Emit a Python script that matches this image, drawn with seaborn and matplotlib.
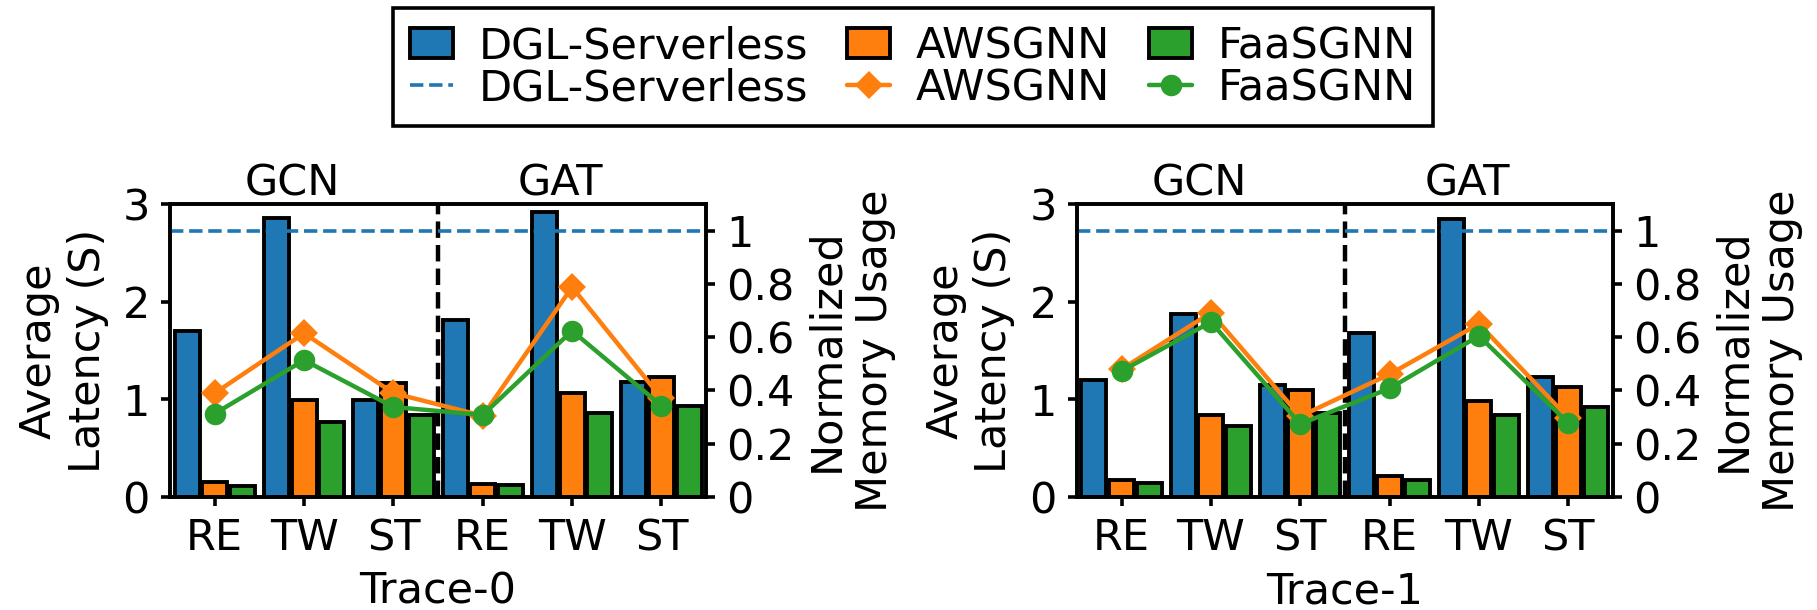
"""
Latency and memory usage of DGL-Serverless / AWSGNN / FaaSGNN on two traces
"""
import matplotlib
matplotlib.use('Agg')
import matplotlib.pyplot as plt
import matplotlib.transforms as mtransforms
from matplotlib.patches import Patch
from matplotlib.lines import Line2D
import numpy as np
import pandas as pd
import seaborn as sns

sns.set_theme(style='ticks')
plt.rcParams['font.family'] = ['DejaVu Sans']
plt.rcParams.update({
    'axes.edgecolor': 'black',
    'axes.labelcolor': 'black',
    'text.color': 'black',
    'xtick.color': 'black',
    'ytick.color': 'black',
    'axes.linewidth': 2.6,
})

FS = 31

# ---- data ----
MODELS = ['GCN', 'GAT']
DATASETS = ['RE', 'TW', 'ST']
SYSTEMS = ['DGL-Serverless', 'AWSGNN', 'FaaSGNN']
COLORS = ['#1f77b4', '#ff7f0e', '#2ca02c']
TRACES = ['Trace-0', 'Trace-1']

# average latency (s), order: GCN RE/TW/ST, GAT RE/TW/ST
dgl_lat_t0 = [1.70, 2.86, 0.99, 1.81, 2.92, 1.18]
aws_lat_t0 = [0.15, 0.99, 1.165, 0.13, 1.07, 1.23]
faa_lat_t0 = [0.11, 0.77, 0.845, 0.12, 0.86, 0.93]

dgl_lat_t1 = [1.20, 1.876, 1.144, 1.684, 2.85, 1.234]
aws_lat_t1 = [0.17, 0.845, 1.093, 0.216, 0.98, 1.13]
faa_lat_t1 = [0.148, 0.725, 0.86, 0.172, 0.835, 0.92]

# normalized memory usage (DGL-Serverless = 1)
dgl_mem = 1.0
aws_mem_t0 = [0.39, 0.615, 0.39, 0.305, 0.788, 0.372]
faa_mem_t0 = [0.313, 0.514, 0.338, 0.308, 0.624, 0.343]

aws_mem_t1 = [0.48, 0.692, 0.303, 0.461, 0.650, 0.297]
faa_mem_t1 = [0.473, 0.657, 0.274, 0.408, 0.605, 0.278]

latency = [
    [dgl_lat_t0, aws_lat_t0, faa_lat_t0],
    [dgl_lat_t1, aws_lat_t1, faa_lat_t1],
]
memory = [
    {'AWSGNN': aws_mem_t0, 'FaaSGNN': faa_mem_t0},
    {'AWSGNN': aws_mem_t1, 'FaaSGNN': faa_mem_t1},
]

cfgs = [f'{m}-{d}' for m in MODELS for d in DATASETS]
tick_labels = DATASETS * len(MODELS)
palette = dict(zip(SYSTEMS, COLORS))
markers = {'AWSGNN': 'D', 'FaaSGNN': 'o'}
msizes = {'AWSGNN': 14.5, 'FaaSGNN': 15.5}

fig = plt.figure(figsize=(18.17, 6.10), dpi=100)
lefts = [0.0936, 0.5927]

for i, trace in enumerate(TRACES):
    ax = fig.add_axes([lefts[i], 0.1852, 0.295, 0.4803])

    rows = []
    for s, vals in zip(SYSTEMS, latency[i]):
        for c, v in zip(cfgs, vals):
            rows.append({'cfg': c, 'system': s, 'latency': v})
    df = pd.DataFrame(rows)

    sns.barplot(data=df, x='cfg', y='latency', hue='system', order=cfgs,
                hue_order=SYSTEMS, palette=palette, width=0.93, gap=0.1,
                edgecolor='black', linewidth=2.8, saturation=1, errorbar=None,
                legend=False, ax=ax)

    ax.axvline(len(DATASETS) - 0.5, color='black', ls='--', lw=3.2)
    ax.set_ylim(0, 3)
    ax.set_yticks([0, 1, 2, 3])
    ax.set_xticks(range(len(cfgs)))
    ax.set_xticklabels(tick_labels)
    ax.set_xlabel(trace, fontsize=FS, labelpad=8)
    ax.set_ylabel('Average\nLatency (S)', fontsize=FS, labelpad=10)
    ax.tick_params(labelsize=FS, length=6.5, width=2.6, pad=8)

    trans = mtransforms.blended_transform_factory(ax.transData, ax.transAxes)
    for j, m in enumerate(MODELS):
        ax.text(0.87 + j * len(DATASETS), 1.0, m, transform=trans,
                ha='center', va='bottom', fontsize=FS)

    # memory on the twin axis
    ax2 = ax.twinx()
    ax2.axhline(dgl_mem, color=COLORS[0], ls='--', lw=2.6)
    pos = np.arange(len(cfgs))
    for s in ['AWSGNN', 'FaaSGNN']:
        sns.lineplot(x=pos, y=memory[i][s], color=palette[s], marker=markers[s],
                     ax=ax2)
        ln = ax2.lines[-1]
        ln.set_markersize(msizes[s])
        ln.set_markeredgewidth(0)
        ln.set_linewidth(3.2)
    ax2.set_ylim(0, 1.1)
    ax2.set_yticks([0, 0.2, 0.4, 0.6, 0.8, 1.0])
    ax2.set_yticklabels(['0', '0.2', '0.4', '0.6', '0.8', '1'])
    ax2.set_ylabel('Normalized\nMemory Usage', fontsize=FS, labelpad=8)
    ax2.tick_params(labelsize=FS, length=6.5, width=2.6, pad=8)
    ax.set_xlim(-0.5, len(cfgs) - 0.5)

# legend
handles, labels = [], []
for s, c in zip(SYSTEMS, COLORS):
    handles.append(Patch(facecolor=c, edgecolor='black', linewidth=2.8))
    labels.append(s)
    if s == 'DGL-Serverless':
        handles.append(Line2D([], [], color=c, ls='--', lw=2.6))
    else:
        handles.append(Line2D([], [], color=c, lw=3.2, marker=markers[s],
                              markersize=msizes[s], markeredgewidth=0))
    labels.append(s)

leg = fig.legend(handles, labels, ncol=3, loc='upper center',
                 bbox_to_anchor=(0.5025, 0.987), fontsize=FS,
                 handlelength=1.0, handletextpad=0.6, columnspacing=0.9,
                 labelspacing=0.0, borderpad=0.4, borderaxespad=0,
                 fancybox=False, framealpha=1)
leg.get_frame().set_edgecolor('black')
leg.get_frame().set_linewidth(2.6)

fig.savefig('out.png', dpi=100)
